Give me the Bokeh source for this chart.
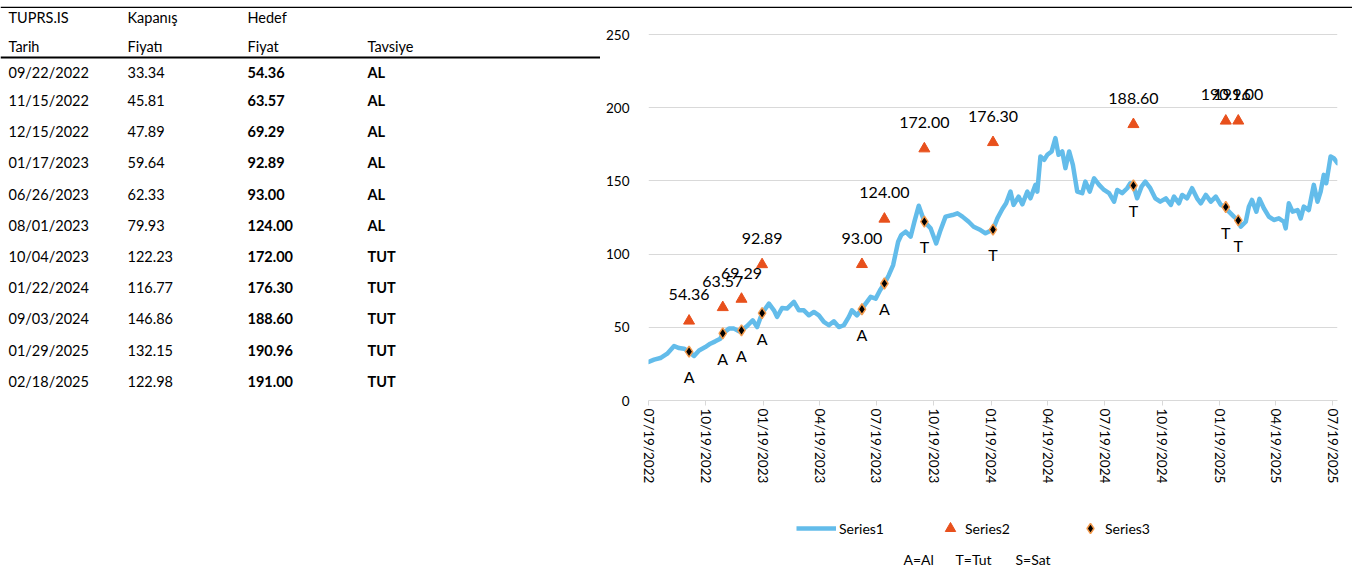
import calendar
from datetime import datetime
import numpy as np
import pandas as pd
from bokeh.plotting import figure
from bokeh.models import (Range1d, FixedTicker, DatetimeTickFormatter, Legend,
                          LegendItem)
from bokeh.layouts import row, column
from bokeh.core.properties import value
from bokeh.embed import file_html
from bokeh.resources import INLINE

FONT = "Lato"

# ---------------- data ----------------
header_row1 = ["TUPRS.IS", "Kapanış", "Hedef", ""]
header_row2 = ["Tarih", "Fiyatı", "Fiyat", "Tavsiye"]

rec_dates = ["09/22/2022", "11/15/2022", "12/15/2022", "01/17/2023", "06/26/2023",
             "08/01/2023", "10/04/2023", "01/22/2024", "09/03/2024", "01/29/2025",
             "02/18/2025"]
rec_close = [33.34, 45.81, 47.89, 59.64, 62.33, 79.93, 122.23, 116.77, 146.86, 132.15, 122.98]
rec_target = [54.36, 63.57, 69.29, 92.89, 93.00, 124.00, 172.00, 176.30, 188.60, 190.96, 191.00]
rec_advice = ["AL", "AL", "AL", "AL", "AL", "AL", "TUT", "TUT", "TUT", "TUT", "TUT"]
rec_code = ["A", "A", "A", "A", "A", "A", "T", "T", "T", "T", "T"]

price_dates = [
    "2022-07-19", "2022-07-28", "2022-08-07", "2022-08-18", "2022-08-29", "2022-09-06",
    "2022-09-14", "2022-09-22", "2022-09-30", "2022-10-08", "2022-10-18", "2022-10-26",
    "2022-11-03", "2022-11-11", "2022-11-15", "2022-11-25", "2022-12-03", "2022-12-11",
    "2022-12-15", "2022-12-24", "2023-01-02", "2023-01-09", "2023-01-17", "2023-01-28",
    "2023-02-05", "2023-02-10", "2023-02-18", "2023-02-26", "2023-03-09", "2023-03-17",
    "2023-03-25", "2023-04-02", "2023-04-10", "2023-04-18", "2023-04-26", "2023-05-04",
    "2023-05-12", "2023-05-20", "2023-05-28", "2023-06-05", "2023-06-10", "2023-06-18",
    "2023-06-26", "2023-07-02", "2023-07-10", "2023-07-18", "2023-07-25", "2023-08-01",
    "2023-08-08", "2023-08-15", "2023-08-19", "2023-08-23", "2023-08-28", "2023-09-04",
    "2023-09-12", "2023-09-18", "2023-09-25", "2023-10-04", "2023-10-14", "2023-10-23",
    "2023-10-29", "2023-11-07", "2023-11-18", "2023-11-26", "2023-12-04", "2023-12-14",
    "2023-12-22", "2024-01-02", "2024-01-10", "2024-01-22", "2024-01-29", "2024-02-06",
    "2024-02-12", "2024-02-19", "2024-02-24", "2024-03-03", "2024-03-09", "2024-03-17",
    "2024-03-22", "2024-03-30", "2024-04-02", "2024-04-07", "2024-04-13", "2024-04-18",
    "2024-04-25", "2024-05-01", "2024-05-06", "2024-05-12", "2024-05-17", "2024-05-23",
    "2024-05-29", "2024-06-05", "2024-06-13", "2024-06-18", "2024-06-25", "2024-07-02",
    "2024-07-10", "2024-07-18", "2024-07-26", "2024-08-03", "2024-08-08", "2024-08-16",
    "2024-08-24", "2024-08-29", "2024-09-03", "2024-09-09", "2024-09-16", "2024-09-22",
    "2024-09-30", "2024-10-08", "2024-10-16", "2024-10-25", "2024-11-02", "2024-11-07",
    "2024-11-15", "2024-11-20", "2024-11-28", "2024-12-06", "2024-12-14", "2024-12-20",
    "2024-12-28", "2025-01-05", "2025-01-13", "2025-01-21", "2025-01-29", "2025-02-03",
    "2025-02-11", "2025-02-18", "2025-02-22", "2025-03-02", "2025-03-07", "2025-03-12",
    "2025-03-19", "2025-03-24", "2025-03-31", "2025-04-08", "2025-04-16", "2025-04-24",
    "2025-05-02", "2025-05-05", "2025-05-10", "2025-05-16", "2025-05-24", "2025-05-29",
    "2025-06-03", "2025-06-11", "2025-06-19", "2025-06-25", "2025-06-30", "2025-07-05",
    "2025-07-09", "2025-07-16", "2025-07-21", "2025-07-27",
]
price_values = [
    26.3, 27.9, 29.0, 32.0, 37.2, 35.8,
    35.4, 33.3, 30.4, 34.2, 36.5, 38.8,
    40.4, 42.2, 45.8, 49.1, 49.1, 47.3,
    47.9, 50.9, 54.8, 50.2, 59.6, 66.2,
    61.6, 57.1, 63.2, 62.8, 67.4, 61.6,
    61.6, 58.2, 60.5, 58.2, 53.7, 51.4,
    54.1, 50.2, 51.4, 57.1, 61.6, 58.2,
    62.3, 66.2, 70.8, 69.6, 75.3, 79.9,
    85.6, 92.5, 100.5, 108.4, 113.0, 115.3,
    111.9, 122.0, 133.0, 122.2, 117.6, 107.3,
    115.3, 125.6, 126.7, 127.9, 125.6, 122.1,
    118.7, 116.4, 114.2, 116.8, 124.4, 130.8,
    134.7, 142.7, 133.6, 139.3, 134.0, 142.7,
    138.1, 147.3, 142.7, 166.7, 164.4, 167.8,
    170.1, 179.2, 167.8, 170.1, 158.7, 170.1,
    161.0, 142.7, 141.6, 149.5, 142.7, 151.8,
    147.3, 143.8, 141.6, 135.8, 143.8, 141.6,
    145.0, 148.4, 146.9, 138.1, 146.1, 149.5,
    145.0, 138.1, 135.8, 138.1, 133.6, 139.3,
    134.7, 140.4, 138.1, 145.0, 138.1, 134.7,
    140.4, 135.8, 139.3, 133.6, 132.2, 129.0,
    125.6, 123.0, 118.7, 122.1, 132.4, 137.0,
    129.0, 137.7, 131.3, 125.6, 123.3, 124.4,
    122.1, 117.6, 134.7, 129.0, 130.1, 124.4,
    132.4, 130.1, 147.3, 135.8, 142.7, 154.1,
    148.4, 166.7, 165.5, 162.1,
]

x_tick_labels = ["07/19/2022", "10/19/2022", "01/19/2023", "04/19/2023", "07/19/2023",
                 "10/19/2023", "01/19/2024", "04/19/2024", "07/19/2024", "10/19/2024",
                 "01/19/2025", "04/19/2025", "07/19/2025"]
y_ticks = [0, 50, 100, 150, 200, 250]
series_names = ["Series1", "Series2", "Series3"]
note_texts = ["A=Al", "T=Tut", "S=Sat"]

# ---------------- helpers ----------------
def to_ms(dt):
    return calendar.timegm(dt.timetuple()) * 1000.0

rec_dt = pd.to_datetime(rec_dates, format="%m/%d/%Y")
price_dt = pd.to_datetime(price_dates)
tick_ms = [to_ms(datetime.strptime(s, "%m/%d/%Y")) for s in x_tick_labels]

BLUE = "#63BCEA"
ORANGE = "#E8501C"
DIAMOND_EDGE = "#F39A4C"

PAGE_W = 1352
RULE_H = 8           # strip holding the heavy top rule
ROW_H = 482          # table / chart row
LEG_H = 79           # legend strip
TABLE_W = 600
CHART_W = PAGE_W - TABLE_W
BOTTOM_BORDER = 90   # space under the frames (x-axis labels)
PX_PER_UNIT = 1.464
Y_TOP = (ROW_H - BOTTOM_BORDER) / PX_PER_UNIT
ROW_TOP = RULE_H
FRAME_BOTTOM = ROW_TOP + ROW_H - BOTTOM_BORDER
LEG_TOP = ROW_TOP + ROW_H

# ---------------- heavy top rule ----------------
top = figure(width=PAGE_W, height=RULE_H, x_range=Range1d(0, PAGE_W),
             y_range=Range1d(RULE_H, 0), toolbar_location=None, output_backend="svg",
             x_axis_location=None, y_axis_location=None, min_border=0)
top.grid.visible = False
top.outline_line_color = None
top.line(x=[0, PAGE_W], y=[4, 4], line_color="#000000", line_width=3.5)

# ---------------- table (page-pixel coordinates) ----------------
t = figure(width=TABLE_W, height=ROW_H, x_range=Range1d(0, TABLE_W),
           y_range=Range1d(FRAME_BOTTOM, ROW_TOP),
           toolbar_location=None, output_backend="svg",
           x_axis_location=None, y_axis_location=None,
           min_border_left=0, min_border_right=0, min_border_top=0,
           min_border_bottom=BOTTOM_BORDER)
t.grid.visible = False
t.outline_line_color = None

col_x = [8, 127, 247, 367]
hdr1_y, hdr2_y, rule_y = 17, 46, 57
row_y = [72] + [100 + 31.2 * i for i in range(len(rec_dates) - 1)]

common = dict(text_font=value(FONT), text_font_size="14.5px", text_baseline="middle",
              text_align="left", text_color="#000000")
t.text(x=col_x, y=[hdr1_y] * 4, text=header_row1, **common)
t.text(x=col_x, y=[hdr2_y] * 4, text=header_row2, **common)
t.line(x=[0, TABLE_W + 1], y=[rule_y, rule_y], line_color="#000000", line_width=2)

n = len(rec_dates)
t.text(x=[col_x[0]] * n, y=row_y, text=rec_dates, **common)
t.text(x=[col_x[1]] * n, y=row_y, text=["%.2f" % v for v in rec_close], **common)
t.text(x=[col_x[2]] * n, y=row_y, text=["%.2f" % v for v in rec_target],
       text_font_style="bold", **common)
t.text(x=[col_x[3]] * n, y=row_y, text=rec_advice, text_font_style="bold", **common)

# ---------------- chart ----------------
x_start = datetime(2022, 7, 19)
x_end = datetime(2025, 7, 27)
p = figure(width=CHART_W, height=ROW_H, x_axis_type="datetime",
           x_range=Range1d(x_start, x_end), y_range=Range1d(0, Y_TOP),
           toolbar_location=None, output_backend="svg",
           min_border_left=48, min_border_right=15, min_border_top=0,
           min_border_bottom=BOTTOM_BORDER)
p.outline_line_color = None
p.xgrid.visible = False
p.ygrid.grid_line_color = "#D9D9D9"
p.ygrid.grid_line_width = 1
p.ygrid.ticker = FixedTicker(ticks=y_ticks)

p.yaxis.ticker = FixedTicker(ticks=y_ticks)
p.yaxis.axis_line_color = None
p.yaxis.major_tick_line_color = None
p.yaxis.minor_tick_line_color = None
p.yaxis.major_label_standoff = 13
p.yaxis.major_label_text_font = FONT
p.yaxis.major_label_text_font_size = "13.5px"
p.yaxis.major_label_text_color = "#000000"

p.xaxis.ticker = FixedTicker(ticks=tick_ms)
fmt = "%m/%d/%Y"
p.xaxis.formatter = DatetimeTickFormatter(days=fmt, months=fmt, years=fmt, hours=fmt,
                                          minutes=fmt, seconds=fmt, milliseconds=fmt,
                                          microseconds=fmt, hourmin=fmt, minsec=fmt)
p.xaxis.major_label_orientation = "vertical"
p.xaxis.axis_line_color = "#D9D9D9"
p.xaxis.major_tick_line_color = "#D9D9D9"
p.xaxis.minor_tick_line_color = None
p.xaxis.major_tick_out = 5
p.xaxis.major_tick_in = 0
p.xaxis.major_label_standoff = 3
p.xaxis.major_label_text_font = FONT
p.xaxis.major_label_text_font_size = "13.5px"
p.xaxis.major_label_text_color = "#000000"

r1 = p.line(x=price_dt, y=price_values, line_color=BLUE, line_width=4.5,
            line_join="round", line_cap="round")
r2 = p.scatter(x=rec_dt, y=rec_target, marker="triangle", size=11,
               fill_color=ORANGE, line_color=ORANGE)
r3 = p.scatter(x=rec_dt, y=rec_close, marker="diamond", size=11,
               fill_color="#000000", line_color=DIAMOND_EDGE, line_width=1.5)

p.text(x=rec_dt, y=rec_target, text=["%.2f" % v for v in rec_target],
       y_offset=-26, text_align="center", text_baseline="middle",
       text_font=value(FONT), text_font_size="16px", text_color="#000000")
p.text(x=rec_dt, y=rec_close, text=rec_code,
       y_offset=25, text_align="center", text_baseline="middle",
       text_font=value(FONT), text_font_size="16px", text_color="#000000")

# ---------------- legend strip (page-pixel coordinates) ----------------
lg = figure(width=PAGE_W, height=LEG_H, x_range=Range1d(0, PAGE_W),
            y_range=Range1d(LEG_TOP + LEG_H, LEG_TOP),
            toolbar_location=None, output_backend="svg",
            x_axis_location=None, y_axis_location=None, min_border=0)
lg.grid.visible = False
lg.outline_line_color = None

# legend proxies: one missing value each, styled like the chart renderers
nan1 = np.array([np.nan])
k1 = lg.line(x=nan1, y=nan1, line_color=BLUE, line_width=4.5)
k2 = lg.scatter(x=nan1, y=nan1, marker="triangle", size=11, fill_color=ORANGE,
                line_color=ORANGE)
k3 = lg.scatter(x=nan1, y=nan1, marker="diamond", size=11, fill_color="#000000",
                line_color=DIAMOND_EDGE, line_width=1.5)

leg_style = dict(orientation="horizontal", background_fill_alpha=0,
                 border_line_color=None, label_text_font=FONT,
                 label_text_font_size="14px", label_text_color="#000000",
                 padding=0, margin=0, glyph_height=26, label_height=20)
legA = Legend(items=[LegendItem(label=series_names[0], renderers=[k1])],
              location=(796, 28), glyph_width=40, label_standoff=3, **leg_style)
legB = Legend(items=[LegendItem(label=series_names[1], renderers=[k2]),
                     LegendItem(label=series_names[2], renderers=[k3])],
              location=(937, 28), glyph_width=26, label_standoff=2, spacing=67,
              **leg_style)
lg.add_layout(legA)
lg.add_layout(legB)

lg.text(x=[903, 955, 1015], y=[559, 559, 559], text=note_texts,
        text_align="left", text_baseline="middle", text_font=value(FONT),
        text_font_size="14px", text_color="#000000")

layout = column(top, row(t, p), lg)
open("out.html", "w").write(file_html(layout, INLINE))
